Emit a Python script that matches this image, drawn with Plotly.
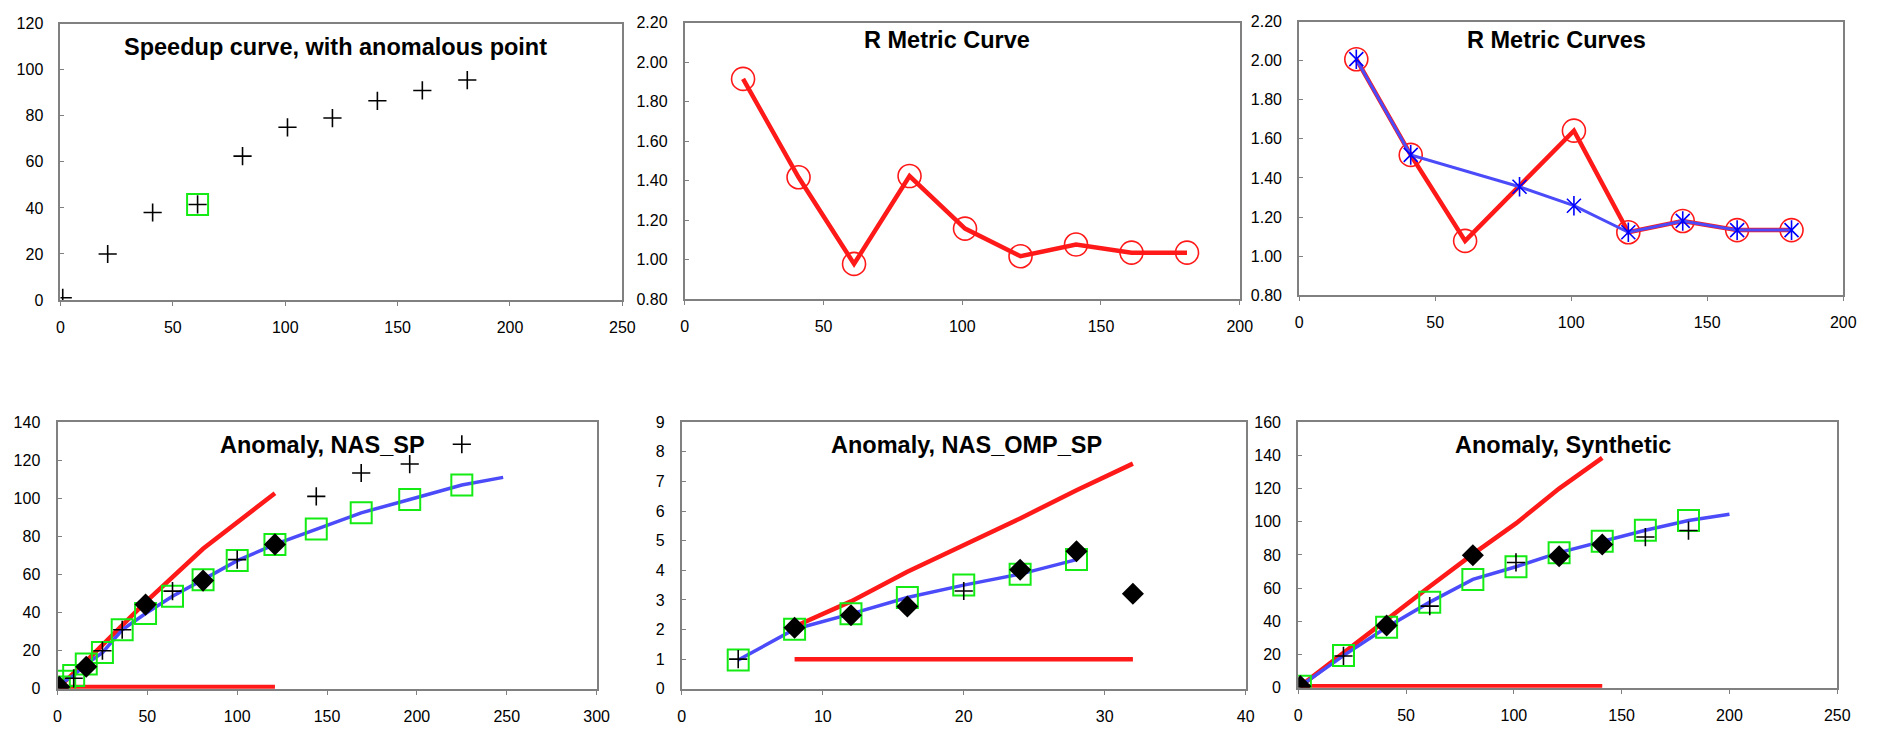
import plotly.graph_objects as go

W, H = 1881, 731

# ---------------- data ----------------
# Chart 1: speedup curve with anomalous point
sp_x = [1, 21, 41, 61, 81, 101, 121, 141, 161, 181]
sp_y = [1, 20, 38, 41.5, 62.5, 75, 79, 86.5, 91, 95.5]
sp_anom_x = [61]
sp_anom_y = [41.5]

# Chart 2: R metric curve
r1_x = [21, 41, 61, 81, 101, 121, 141, 161, 181]
r1_y = [1.915, 1.417, 0.978, 1.423, 1.157, 1.017, 1.076, 1.035, 1.035]

# Chart 3: R metric curves
r2_red_x = [21, 41, 61, 101, 121, 141, 161, 181]
r2_red_y = [2.008, 1.518, 1.078, 1.642, 1.122, 1.18, 1.133, 1.133]
r2_blue_x = [21, 41, 81, 101, 121, 141, 161, 181]
r2_blue_y = [2.008, 1.518, 1.355, 1.258, 1.122, 1.18, 1.133, 1.133]

# Chart 4: Anomaly, NAS_SP
nas_plus_x = [9, 25, 36, 64, 100, 144, 169, 196, 225]
nas_plus_y = [5.5, 20, 31, 51.3, 67.8, 101, 113.3, 118, 128.4]
nas_dia_x = [1, 16, 49, 81, 121]
nas_dia_y = [1, 11.6, 44.2, 56.8, 75.8]
nas_sq_x = [1, 4, 9, 16, 25, 36, 49, 64, 81, 100, 121, 144, 169, 196, 225]
nas_sq_y = [1, 4, 7, 13, 19, 31, 39.5, 48.6, 57.3, 67.3, 75.8, 83.9, 92.4, 99.4, 107]
nas_fit_x = [1, 4, 9, 16, 25, 36, 49, 64, 81, 100, 121, 144, 169, 196, 225, 248]
nas_fit_y = [1, 4, 7, 13, 19, 31, 39.5, 48.6, 57.3, 67.3, 75.8, 83.9, 92.4, 99.4, 107, 111]
nas_ideal_x = [1, 16, 49, 81, 121]
nas_ideal_y = [1, 14.5, 45.5, 73.5, 102.7]
nas_base_x = [1, 121]
nas_base_y = [1, 1]

# Chart 5: Anomaly, NAS_OMP_SP
omp_plus_x = [4, 20]
omp_plus_y = [1.0, 3.3]
omp_dia_x = [8, 12, 16, 24, 28, 32]
omp_dia_y = [2.06, 2.48, 2.78, 4.02, 4.64, 3.21]
omp_sq_x = [4, 8, 12, 16, 20, 24, 28]
omp_sq_y = [0.97, 2.01, 2.53, 3.08, 3.5, 3.87, 4.36]
omp_ideal_x = [8, 12, 16, 20, 24, 28, 32]
omp_ideal_y = [2.1, 2.95, 3.95, 4.85, 5.75, 6.7, 7.6]
omp_base_x = [8, 32]
omp_base_y = [1, 1]

# Chart 6: Anomaly, Synthetic
syn_plus_x = [21, 61, 101, 161, 181]
syn_plus_y = [19.2, 49.2, 75.5, 90.8, 94.7]
syn_dia_x = [1, 41, 81, 121, 141]
syn_dia_y = [1, 37.5, 79.8, 79.2, 86.3]
syn_sq_x = [1, 21, 41, 61, 81, 101, 121, 141, 161, 181]
syn_sq_y = [1, 19.4, 36.5, 51.6, 65.3, 72.9, 81.4, 88.2, 94.9, 100.8]
syn_fit_x = [1, 21, 41, 61, 81, 101, 121, 141, 161, 181, 200]
syn_fit_y = [1, 19.4, 36.5, 51.6, 65.3, 72.9, 81.4, 88.2, 94.9, 100.8, 104.5]
syn_ideal_x = [1, 21, 41, 61, 81, 101, 121, 141]
syn_ideal_y = [1, 21, 41.5, 61, 80.5, 99, 120, 138.5]
syn_base_x = [1, 141]
syn_base_y = [1, 1]

titles = ["Speedup curve, with anomalous point", "R Metric Curve", "R Metric Curves",
          "Anomaly, NAS_SP", "Anomaly, NAS_OMP_SP", "Anomaly, Synthetic"]

# ---------------- layout geometry (pixels) ----------------
frames = [(57, 16, 624, 299), (687, 15, 1247, 298), (1307, 14, 1856, 294),
          (54, 424, 598, 697), (684, 424, 1253, 697), (1306, 424, 1850, 696)]
title_pos = [(335, 40), (952, 33), (1567, 33), (321, 447), (971, 447), (1573, 447)]
xr = [(0, 250, 50), (0, 200, 50), (0, 200, 50), (0, 300, 50), (0, 40, 10), (0, 250, 50)]
yr = [(0, 120, 20), (0.8, 2.2, 0.2), (0.8, 2.2, 0.2), (0, 140, 20), (0, 9, 1), (0, 160, 20)]

RED = "rgb(255,25,25)"
BLUE = "rgb(75,75,250)"
GREEN = "rgb(20,235,20)"
FONT = "Liberation Sans, Arial, Helvetica, sans-serif"

fig = go.Figure()


def ax(i):
    return ("x" if i == 0 else f"x{i+1}"), ("y" if i == 0 else f"y{i+1}")


def line(i, x, y, color, width):
    xa, ya = ax(i)
    fig.add_trace(go.Scatter(x=x, y=y, mode="lines", xaxis=xa, yaxis=ya,
                             line=dict(color=color, width=width), hoverinfo="skip"))


def marks(i, x, y, symbol, size, color, lw=1.5, fill=None):
    xa, ya = ax(i)
    mk = dict(symbol=symbol, size=size, color=fill if fill else color,
              line=dict(color=color, width=lw))
    fig.add_trace(go.Scatter(x=x, y=y, mode="markers", xaxis=xa, yaxis=ya,
                             marker=mk, hoverinfo="skip"))


PLUS = 13
SQ = 21
DIA = 17
CIRC = 23

# Chart 1
marks(0, sp_x, sp_y, "cross-thin", PLUS, "black", 1.6)
marks(0, sp_anom_x, sp_anom_y, "square-open", SQ, GREEN, 2)

# Chart 2
line(1, r1_x, r1_y, RED, 4.5)
marks(1, r1_x, r1_y, "circle-open", CIRC, RED, 1.6)

# Chart 3
line(2, r2_red_x, r2_red_y, RED, 4.5)
marks(2, r2_red_x, r2_red_y, "circle-open", CIRC, RED, 1.6)
line(2, r2_blue_x, r2_blue_y, BLUE, 3)
marks(2, r2_blue_x, r2_blue_y, "x-thin", 14, "blue", 1.6)
marks(2, r2_blue_x, r2_blue_y, "line-ns", 14, "blue", 1.6)

# Chart 4
line(3, nas_ideal_x, nas_ideal_y, RED, 4.5)
line(3, nas_base_x, nas_base_y, RED, 4.5)
line(3, nas_fit_x, nas_fit_y, BLUE, 3.5)
marks(3, nas_sq_x, nas_sq_y, "square-open", SQ, GREEN, 2)
marks(3, nas_plus_x, nas_plus_y, "cross-thin", PLUS, "black", 1.6)
marks(3, nas_dia_x, nas_dia_y, "diamond", DIA, "black", 0, fill="black")

# Chart 5
line(4, omp_ideal_x, omp_ideal_y, RED, 4.5)
line(4, omp_base_x, omp_base_y, RED, 4.5)
line(4, omp_sq_x, omp_sq_y, BLUE, 3.5)
marks(4, omp_sq_x, omp_sq_y, "square-open", SQ, GREEN, 2)
marks(4, omp_plus_x, omp_plus_y, "cross-thin", PLUS, "black", 1.6)
marks(4, omp_dia_x, omp_dia_y, "diamond", DIA, "black", 0, fill="black")

# Chart 6
line(5, syn_ideal_x, syn_ideal_y, RED, 4.5)
line(5, syn_base_x, syn_base_y, RED, 4.5)
line(5, syn_fit_x, syn_fit_y, BLUE, 3.5)
marks(5, syn_sq_x, syn_sq_y, "square-open", SQ, GREEN, 2)
marks(5, syn_plus_x, syn_plus_y, "cross-thin", PLUS, "black", 1.6)
marks(5, syn_dia_x, syn_dia_y, "diamond", DIA, "black", 0, fill="black")

layout = dict(width=W, height=H, margin=dict(l=0, r=0, t=0, b=0),
              paper_bgcolor="white", plot_bgcolor="white", showlegend=False,
              font=dict(family=FONT, size=16, color="black"))

annotations = []
for i in range(6):
    l, t, r, b = frames[i]
    xname = "xaxis" if i == 0 else f"xaxis{i+1}"
    yname = "yaxis" if i == 0 else f"yaxis{i+1}"
    x0, x1, dx = xr[i]
    y0, y1, dy = yr[i]
    layout[xname] = dict(domain=[l / W, r / W], range=[x0, x1], dtick=dx, tick0=x0,
                         anchor=ax(i)[1], showgrid=False, zeroline=False,
                         showline=True, mirror=True, linecolor="#808080", linewidth=2,
                         ticks="outside", ticklen=4, tickcolor="#808080",
                         ticklabelstandoff=8, tickfont=dict(size=16, family=FONT))
    yd = dict(domain=[1 - b / H, 1 - t / H], range=[y0, y1], dtick=dy, tick0=y0,
              anchor=ax(i)[0], showgrid=False, zeroline=False,
              showline=True, mirror=True, linecolor="#808080", linewidth=2,
              ticks="inside", ticklen=4, tickcolor="#808080",
              ticklabelstandoff=12, tickfont=dict(size=16, family=FONT))
    if i in (1, 2):
        yd["tickformat"] = ".2f"
    layout[yname] = yd
    tx, ty = title_pos[i]
    annotations.append(dict(text="<b>" + titles[i] + "</b>", xref="paper", yref="paper",
                            x=tx / W, y=1 - ty / H, xanchor="center", yanchor="middle",
                            showarrow=False, font=dict(size=23.5, family=FONT, color="black")))
layout["annotations"] = annotations
fig.update_layout(**layout)

fig.write_html("out.html")
